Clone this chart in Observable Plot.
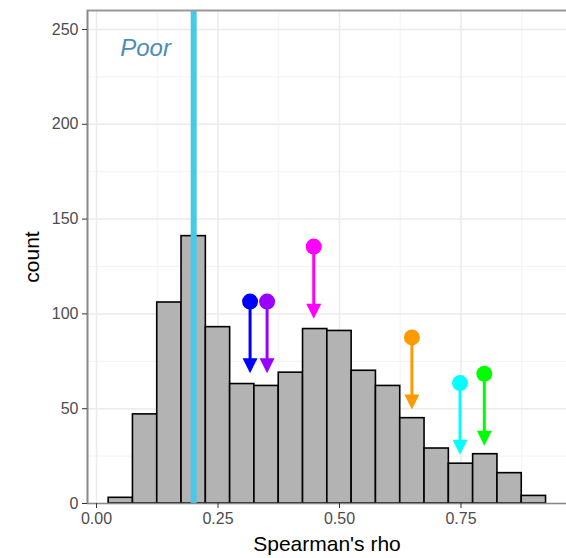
<!DOCTYPE html>
<html>
<head>
<meta charset="utf-8">
<script src="https://cdn.jsdelivr.net/npm/d3@7"></script>
<script src="https://cdn.jsdelivr.net/npm/@observablehq/plot@0.6"></script>
<style>
  html, body { margin: 0; padding: 0; background: #fff; }
  #chart svg { display: block; font-family: "Liberation Sans", Arial, sans-serif; }
</style>
</head>
<body>
<div id="chart"></div>
<script>
// Histogram bins (centres) and counts
const binCenters = [0.05, 0.10, 0.15, 0.20, 0.25, 0.30, 0.35, 0.40, 0.45, 0.50, 0.55, 0.60, 0.65, 0.70, 0.75, 0.80, 0.85, 0.90];
const binCounts  = [3, 47, 106, 141, 93, 63, 62, 69, 92, 91, 70, 62, 45, 29, 21, 26, 16, 4];
const binWidth = 0.05;

// Threshold line and label
const thresholdX = [0.2];
const labelText = ["Poor"];
const labelX = [0.101];
const labelY = [240];

// Arrows: x position, start (dot) count, end (tip) count, colour
const arrowX     = [0.316, 0.351, 0.447, 0.649, 0.748, 0.798];
const arrowFrom  = [106.5, 106.5, 135.5, 87.6, 63.5, 68.4];
const arrowTo    = [68.7, 68.7, 97.4, 49.6, 25.7, 30.4];
const arrowColor = ["#0000FF", "#9A00FF", "#FF00FF", "#FF9900", "#00FFFF", "#00FF00"];

// Axis ticks
const xTicks = [0, 0.25, 0.5, 0.75];
const xMinor = [0.125, 0.375, 0.625, 0.875];
const yTicks = [0, 50, 100, 150, 200, 250];
const yMinor = [25, 75, 125, 175, 225];

const bins = binCenters.map((c, i) => ({x1: c - binWidth / 2, x2: c + binWidth / 2, count: binCounts[i]}));
const arrows = arrowX.map((x, i) => ({x, from: arrowFrom[i], to: arrowTo[i], color: arrowColor[i]}));

const xDomain = [-0.0185, 0.9671];
const yDomain = [0, 260];

const downTriangle = {
  draw(ctx) {
    ctx.moveTo(-7.5, -15);
    ctx.lineTo(7.5, -15);
    ctx.lineTo(0, 0);
    ctx.closePath();
  }
};

const chart = Plot.plot({
  width: 566,
  height: 558,
  marginLeft: 87,
  marginRight: 0,
  marginTop: 10,
  marginBottom: 55,
  x: {domain: xDomain, label: null},
  y: {domain: yDomain, label: null},
  color: {type: "identity"},
  style: {fontFamily: "'Liberation Sans', Arial, sans-serif", background: "#fff"},
  marks: [
    // grid
    Plot.ruleX(xMinor, {stroke: "#f3f3f3", strokeWidth: 1}),
    Plot.ruleY(yMinor, {stroke: "#f3f3f3", strokeWidth: 1}),
    Plot.ruleX(xTicks, {stroke: "#ebebeb", strokeWidth: 1.5}),
    Plot.ruleY(yTicks, {stroke: "#ebebeb", strokeWidth: 1.5}),
    // bars
    Plot.rectY(bins, {x1: "x1", x2: "x2", y: "count", fill: "#B3B3B3", stroke: "#000", strokeWidth: 1.6}),
    // threshold
    Plot.ruleX(thresholdX, {stroke: "#48C9E8", strokeWidth: 6}),
    Plot.text(labelText, {x: () => labelX[0], y: () => labelY[0], text: d => d, fill: "#4A8DB8", fontSize: 24, fontStyle: "italic"}),
    // arrows
    Plot.ruleX(arrows, {x: "x", y1: "from", y2: "to", stroke: "color", strokeWidth: 3, insetBottom: 8}),
    Plot.dot(arrows, {x: "x", y: "to", symbol: downTriangle, fill: "color", stroke: null}),
    Plot.dot(arrows, {x: "x", y: "from", r: 8, fill: "color", stroke: null}),
    // frame lines
    Plot.ruleY([yDomain[1]], {stroke: "#999", strokeWidth: 2}),
    Plot.ruleY([0], {stroke: "#888", strokeWidth: 1.5}),
    Plot.ruleX([xDomain[0]], {stroke: "#888", strokeWidth: 2}),
    // axes
    Plot.axisX(xTicks, {tickFormat: d3.format(".2f"), tickSize: 5, tickPadding: 4, stroke: "#333", fill: "#4d4d4d", fontSize: 16,
      label: "Spearman's rho", labelAnchor: "center", labelOffset: 47, labelArrow: "none"}),
    Plot.axisY(yTicks, {tickSize: 5, tickPadding: 4, stroke: "#333", fill: "#4d4d4d", fontSize: 16,
      label: "count", labelAnchor: "center", labelOffset: 63, labelArrow: "none"})
  ]
});

document.getElementById("chart").appendChild(chart);

// style axis titles (black, larger) and make sure no arrows remain
chart.querySelectorAll("g[aria-label='x-axis label'] text, g[aria-label='y-axis label'] text").forEach(t => {
  t.setAttribute("fill", "#000");
  t.style.fontSize = "21px";
  t.textContent = t.textContent.replace(/\s*[→←↑↓]\s*/g, "").trim();
});
</script>
</body>
</html>
